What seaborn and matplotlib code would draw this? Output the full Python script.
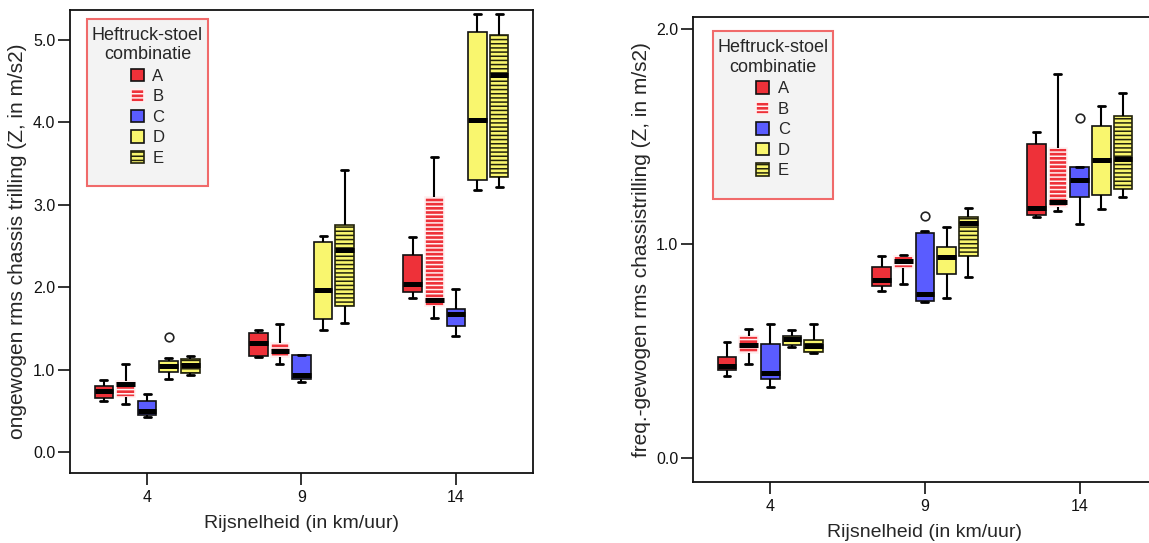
import matplotlib
matplotlib.use("Agg")
import matplotlib.pyplot as plt
from matplotlib.patches import Patch, Rectangle
from matplotlib.ticker import FormatStrFormatter
import numpy as np
import pandas as pd
import seaborn as sns

speeds = ["4", "9", "14"]
combos = ["A", "B", "C", "D", "E"]

# Unweighted rms chassis vibration: five-number summary, speed-major, combination-minor
ruw_min = [0.62, 0.58, 0.42, 0.89, 0.94,
           1.15, 1.07, 0.85, 1.48, 1.57,
           1.87, 1.63, 1.41, 3.18, 3.21]
ruw_q1 = [0.66, 0.67, 0.45, 0.97, 0.955,
          1.165, 1.15, 0.88, 1.61, 1.77,
          1.94, 1.77, 1.53, 3.30, 3.34]
ruw_med = [0.74, 0.825, 0.50, 1.04, 1.06,
           1.32, 1.23, 0.93, 1.96, 2.45,
           2.04, 1.85, 1.675, 4.03, 4.57]
ruw_q3 = [0.80, 0.86, 0.62, 1.11, 1.13,
          1.44, 1.32, 1.18, 2.55, 2.755,
          2.39, 3.09, 1.735, 5.10, 5.06]
ruw_max = [0.87, 1.07, 0.70, 1.14, 1.16,
           1.48, 1.55, 1.18, 2.62, 3.42,
           2.61, 3.58, 1.98, 5.32, 5.32]
ruw_outliers = [("4", "D", 1.39)]

# Frequency-weighted rms chassis vibration
freq_min = [0.38, 0.437, 0.333, 0.516, 0.49,
            0.78, 0.81, 0.725, 0.747, 0.845,
            1.125, 1.15, 1.09, 1.162, 1.218]
freq_q1 = [0.41, 0.49, 0.367, 0.525, 0.494,
           0.80, 0.884, 0.73, 0.856, 0.942,
           1.133, 1.17, 1.218, 1.226, 1.253]
freq_med = [0.43, 0.527, 0.395, 0.553, 0.52,
            0.83, 0.918, 0.765, 0.935, 1.097,
            1.164, 1.193, 1.296, 1.39, 1.395]
freq_q3 = [0.47, 0.57, 0.53, 0.567, 0.55,
           0.89, 0.94, 1.05, 0.985, 1.125,
           1.465, 1.447, 1.358, 1.55, 1.594]
freq_max = [0.54, 0.60, 0.625, 0.597, 0.625,
            0.94, 0.946, 1.058, 1.078, 1.167,
            1.52, 1.79, 1.358, 1.64, 1.70]
freq_outliers = [("9", "C", 1.128), ("14", "C", 1.585)]

fill_colors = {"A": "#EE3139", "B": "#EE3139", "C": "#5A5CFF",
               "D": "#F9F66E", "E": "#F9F66E"}
edge_colors = {"A": "#111111", "B": "#FFF0F0", "C": "#111111",
               "D": "#111111", "E": "#22220C"}
hatches = {"A": None, "B": "----", "C": None, "D": None, "E": "----"}

sns.set_style("ticks")
plt.rcParams["font.family"] = ["Liberation Sans", "DejaVu Sans"]
plt.rcParams["hatch.linewidth"] = 1.1

BOX_WIDTH = 0.7
N = len(combos)
SLOT = BOX_WIDTH / N


def long_table(lo, q1, med, q3, hi):
    rows = []
    for i, stats in enumerate(zip(lo, q1, med, q3, hi)):
        for v in stats:
            rows.append({"snelheid": speeds[i // N],
                         "combinatie": combos[i % N],
                         "waarde": v})
    return pd.DataFrame(rows)


def draw_panel(ax, df, outliers, ylim, yticks, ylabel, legend_box):
    sns.boxplot(data=df, x="snelheid", y="waarde", hue="combinatie",
                order=speeds, hue_order=combos, palette=fill_colors,
                width=BOX_WIDTH, gap=0.14, whis=(0, 100), saturation=1,
                linewidth=1.2, linecolor="#111111", legend=False, ax=ax,
                medianprops=dict(color="black", linewidth=3.6,
                                 solid_capstyle="butt"),
                whiskerprops=dict(color="black", linewidth=1.5),
                capprops=dict(color="black", linewidth=2.0),
                capwidths=0.045)

    # striped variants (B, E)
    for patch in ax.patches:
        ext = patch.get_path().get_extents()
        cx = (ext.x0 + ext.x1) / 2
        k = int(round((cx - round(cx)) / SLOT)) + N // 2
        c = combos[k]
        patch.set_edgecolor(edge_colors[c])
        if hatches[c]:
            patch.set_hatch(hatches[c])

    # outlying observations
    for spd, comb, val in outliers:
        x = speeds.index(spd) + (combos.index(comb) - N // 2) * SLOT
        ax.plot([x], [val], marker="o", ms=6.2, mfc="none", mec="#222222",
                mew=1.2, ls="none", zorder=5)

    ax.set_xlim(-0.5, 2.5)
    ax.set_ylim(*ylim)
    ax.set_yticks(yticks)
    ax.yaxis.set_major_formatter(FormatStrFormatter("%.1f"))
    ax.set_xlabel("Rijsnelheid (in km/uur)", fontsize=14, labelpad=7)
    ax.set_ylabel(ylabel, fontsize=15, labelpad=4)
    for s in ax.spines.values():
        s.set_visible(True)
        s.set_linewidth(1.3)
        s.set_color("#111111")
    ax.tick_params(direction="out", length=8.5, width=1.2, labelsize=11.5,
                   pad=2, colors="#111111")
    ax.tick_params(axis="x", pad=4)

    # legend frame and entries
    bx, by, bw, bh = legend_box
    ax.add_patch(Rectangle((bx, by), bw, bh, transform=ax.transAxes,
                           facecolor="#F3F3F3", edgecolor="#F06A6A",
                           linewidth=1.5, zorder=6, clip_on=False))
    handles = [Patch(facecolor=fill_colors[c], edgecolor=edge_colors[c],
                     hatch=hatches[c], linewidth=1.2) for c in combos]
    leg = ax.legend(handles, combos, title="Heftruck-stoel\ncombinatie",
                    loc="upper center",
                    bbox_to_anchor=(bx + bw / 2, by + bh + 0.008),
                    frameon=False, fontsize=12, title_fontsize=13,
                    handlelength=0.8, handleheight=0.8, handletextpad=0.5,
                    labelspacing=0.32, borderpad=0.2)
    leg._legend_box.align = "center"
    leg.get_title().set_multialignment("center")
    leg.set_zorder(7)


fig = plt.figure(figsize=(11.49, 5.43), dpi=100)
ax1 = fig.add_axes([0.0609, 0.1289, 0.4030, 0.8527])
ax2 = fig.add_axes([0.6031, 0.1123, 0.4038, 0.8564])

draw_panel(ax1, long_table(ruw_min, ruw_q1, ruw_med, ruw_q3, ruw_max),
           ruw_outliers, (-0.255, 5.364), [0, 1, 2, 3, 4, 5],
           "ongewogen rms chassis trilling (Z, in m/s2)",
           (0.0367, 0.620, 0.261, 0.361))
draw_panel(ax2, long_table(freq_min, freq_q1, freq_med, freq_q3, freq_max),
           freq_outliers, (-0.112, 2.056), [0, 1, 2],
           "freq.-gewogen rms chassistrilling (Z, in m/s2)",
           (0.0431, 0.6086, 0.2586, 0.361))

fig.savefig("out.png", dpi=100)
